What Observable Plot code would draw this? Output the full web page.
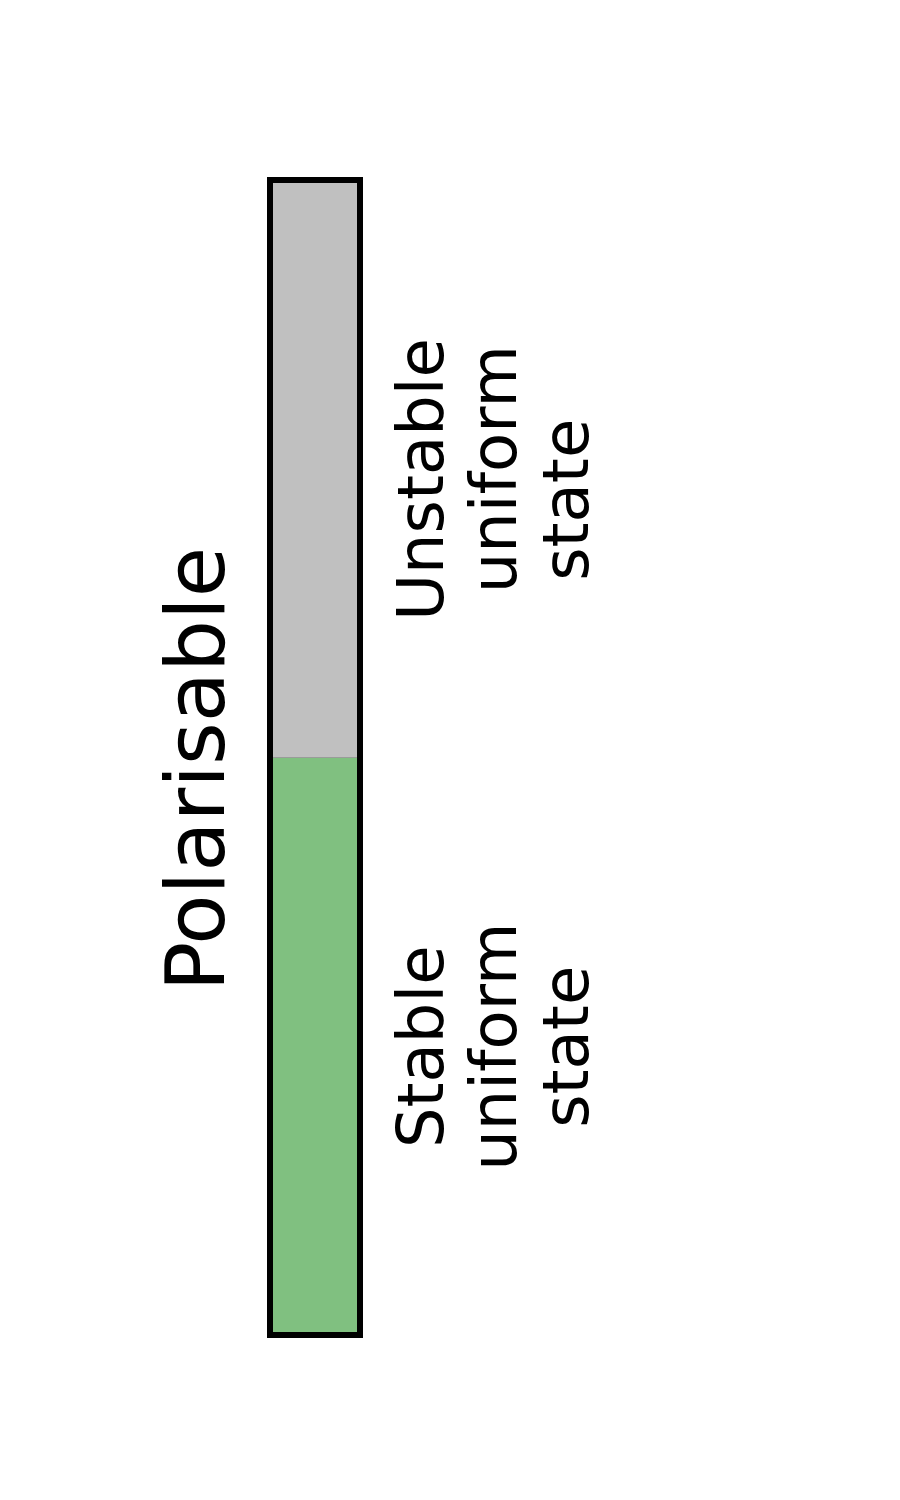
<!DOCTYPE html>
<html>
<head>
<meta charset="utf-8">
<script src="https://cdn.jsdelivr.net/npm/d3@7"></script>
<script src="https://cdn.jsdelivr.net/npm/@observablehq/plot@0.6"></script>
<style>
  body { margin: 0; background: #fff; }
  #chart svg { display: block; overflow: visible; }
</style>
</head>
<body>
<div id="chart"></div>
<script>
  // one bar, two states stacked on top of each other
  const groups = ["Polarisable"];
  const states = ["Stable uniform state", "Unstable uniform state"];
  const shares = [1, 1];
  // the original's lines in the upper label sit a little off centre
  const labels = ["Stable\nuniform\nstate", "Unstable\u00a0\nuniform\nstate\u00a0\u00a0\u00a0"];
  const colors = ["#80c080", "#c0c0c0"];

  let data = states.map((s, i) => ({group: groups[0], state: s, value: shares[i], label: labels[i]}));

  let chart = Plot.plot({
    width: 900,
    height: 1500,
    marginLeft: 270,
    marginRight: 540,
    marginTop: 180,
    marginBottom: 165,
    style: {fontFamily: "DejaVu Sans", background: "#fff"},
    x: {domain: groups, padding: 0, axis: null},
    y: {domain: [0, d3.sum(shares)], axis: null},
    color: {domain: states, range: colors},
    marks: [
      Plot.barY(data, Plot.stackY({
        x: "group",
        y: "value",
        fill: "state",
        stroke: "#8a8a8a",
        strokeWidth: 0.6,
      })),
      // outline round the whole bar
      Plot.barY(groups, {
        x: d => d,
        y: () => d3.sum(shares),
        fill: "none",
        stroke: "black",
        strokeWidth: 6,
      }),
      Plot.text(data, Plot.stackY({
        x: "group",
        y: "value",
        text: "label",
        rotate: -90,
        dx: 177,
        fontSize: 64,
        lineHeight: 1.133,
        textAnchor: "middle",
        lineAnchor: "middle",
        fill: "black",
      })),
      Plot.text(groups, {
        x: d => d,
        text: d => d,
        frameAnchor: "middle",
        rotate: -90,
        dx: -118,
        dy: 11,
        fontSize: 82,
        textAnchor: "middle",
        lineAnchor: "middle",
        fill: "black",
      }),
    ]
  });

  d3.select('#chart').append(() => chart);
</script>
</body>
</html>
